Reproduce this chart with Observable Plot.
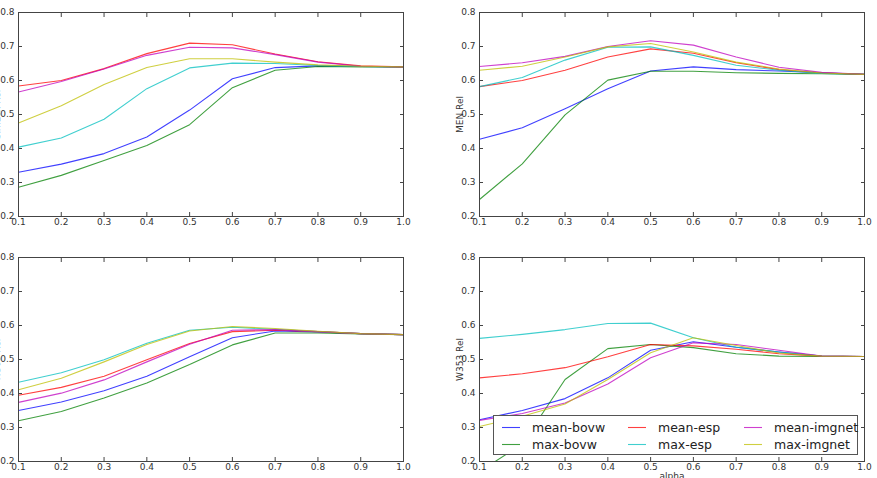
<!DOCTYPE html>
<html>
<head>
<meta charset="utf-8">
<script src="https://cdn.jsdelivr.net/npm/d3@7"></script>
<script src="https://cdn.jsdelivr.net/npm/@observablehq/plot@0.6"></script>
<style>
  html, body { margin: 0; padding: 0; background: #fff; }
  body { position: relative; width: 877px; height: 478px; overflow: hidden; font-family: "DejaVu Sans", sans-serif; }
  .panel { position: absolute; }
  #legend {
    position: absolute; left: 493px; top: 415px; width: 363px; height: 38px;
    border: 1px solid #555; background: #fff; font-size: 12.5px; color: #222;
  }
  #legend .item { position: absolute; display: flex; align-items: center; height: 16px; white-space: nowrap; }
  #legend svg { display: block; margin-right: 12px; }
</style>
</head>
<body>
<script>
// alpha values on the x axis
const alphas = [0.1, 0.2, 0.3, 0.4, 0.5, 0.6, 0.7, 0.8, 0.9, 1.0];
const xTicks = [0.1, 0.2, 0.3, 0.4, 0.5, 0.6, 0.7, 0.8, 0.9, 1.0];
const yTicks = [0.2, 0.3, 0.4, 0.5, 0.6, 0.7, 0.8];

// series, in legend order (column by column, two per column)
const seriesNames = ["mean-bovw", "max-bovw", "mean-esp", "max-esp", "mean-imgnet", "max-imgnet"];
const seriesColors = ["#0000ff", "#008000", "#ff0000", "#00bfbf", "#bf00bf", "#bfbf00"];

// relatedness scores per alpha; rows follow seriesNames
const scoresTopLeft = [
  [0.330, 0.354, 0.385, 0.434, 0.513, 0.605, 0.638, 0.643, 0.641, 0.640],
  [0.286, 0.321, 0.365, 0.409, 0.470, 0.579, 0.630, 0.641, 0.640, 0.640],
  [0.584, 0.600, 0.635, 0.679, 0.710, 0.705, 0.678, 0.655, 0.643, 0.640],
  [0.404, 0.431, 0.486, 0.576, 0.637, 0.651, 0.650, 0.644, 0.641, 0.640],
  [0.566, 0.597, 0.634, 0.674, 0.698, 0.696, 0.676, 0.654, 0.642, 0.640],
  [0.475, 0.526, 0.588, 0.638, 0.664, 0.664, 0.654, 0.646, 0.642, 0.640]
];
const scoresMEN = [
  [0.427, 0.461, 0.517, 0.576, 0.628, 0.640, 0.632, 0.628, 0.623, 0.618],
  [0.250, 0.355, 0.499, 0.601, 0.627, 0.627, 0.623, 0.621, 0.620, 0.618],
  [0.582, 0.600, 0.630, 0.669, 0.693, 0.680, 0.652, 0.632, 0.622, 0.618],
  [0.582, 0.609, 0.660, 0.698, 0.699, 0.674, 0.645, 0.630, 0.621, 0.618],
  [0.641, 0.652, 0.671, 0.700, 0.717, 0.704, 0.669, 0.639, 0.624, 0.618],
  [0.630, 0.642, 0.669, 0.699, 0.709, 0.684, 0.654, 0.634, 0.622, 0.618]
];
const scoresBottomLeft = [
  [0.350, 0.375, 0.408, 0.451, 0.508, 0.564, 0.584, 0.581, 0.576, 0.573],
  [0.320, 0.347, 0.387, 0.431, 0.485, 0.543, 0.578, 0.578, 0.575, 0.573],
  [0.395, 0.418, 0.451, 0.499, 0.547, 0.582, 0.586, 0.582, 0.576, 0.573],
  [0.433, 0.461, 0.499, 0.548, 0.586, 0.595, 0.589, 0.582, 0.576, 0.573],
  [0.374, 0.401, 0.440, 0.493, 0.545, 0.586, 0.588, 0.582, 0.576, 0.573],
  [0.411, 0.445, 0.493, 0.544, 0.584, 0.597, 0.591, 0.583, 0.576, 0.573]
];
const scoresW353 = [
  [0.323, 0.350, 0.385, 0.446, 0.527, 0.552, 0.536, 0.522, 0.510, 0.509],
  [0.170, 0.252, 0.441, 0.532, 0.544, 0.535, 0.517, 0.510, 0.509, 0.509],
  [0.446, 0.458, 0.476, 0.508, 0.544, 0.540, 0.530, 0.517, 0.510, 0.509],
  [0.562, 0.574, 0.588, 0.606, 0.607, 0.564, 0.536, 0.522, 0.510, 0.509],
  [0.321, 0.341, 0.372, 0.428, 0.505, 0.549, 0.544, 0.527, 0.510, 0.509],
  [0.303, 0.333, 0.369, 0.441, 0.520, 0.564, 0.541, 0.519, 0.510, 0.509]
];

const fmt = d => d.toFixed(1);
const blank = () => "";

function panel(rows, {left, top, ylabel, labelDx, xlabel}) {
  const data = rows.flatMap((vals, s) =>
    vals.map((v, i) => ({alpha: alphas[i], value: v, series: seriesNames[s]})));
  const marks = [
    Plot.line(data, {x: "alpha", y: "value", z: "series", stroke: "series",
      strokeWidth: 1.1, strokeOpacity: 0.75, clip: true}),
    Plot.frame({stroke: "#444"}),
    Plot.axisX({anchor: "bottom", ticks: xTicks, tickSize: -4, tickPadding: 6, tickFormat: fmt, label: null, stroke: "#444"}),
    Plot.axisX({anchor: "top", ticks: xTicks, tickSize: -4, tickFormat: blank, label: null, stroke: "#444"}),
    Plot.axisY({anchor: "left", ticks: yTicks, tickSize: -4, tickPadding: 8, tickFormat: fmt, label: null, stroke: "#444"}),
    Plot.axisY({anchor: "right", ticks: yTicks, tickSize: -4, tickFormat: blank, label: null, stroke: "#444"}),
    Plot.text([ylabel], {frameAnchor: "left", textAnchor: "middle", rotate: -90, dx: labelDx, fill: "#333", fontSize: 9})
  ];
  if (xlabel) {
    marks.push(Plot.text([xlabel], {frameAnchor: "bottom", lineAnchor: "top", dy: 11, fill: "#333", fontSize: 9}));
  }
  const svg = Plot.plot({
    width: 440, height: 236,
    marginLeft: 40, marginRight: 15, marginTop: 12, marginBottom: 20,
    style: {fontFamily: "'DejaVu Sans', sans-serif", fontSize: "9px", color: "#333", background: "transparent", overflow: "visible"},
    x: {domain: [0.1, 1.0]},
    y: {domain: [0.2, 0.8]},
    color: {domain: seriesNames, range: seriesColors},
    marks
  });
  svg.classList.add("panel");
  svg.style.left = left + "px";
  svg.style.top = top + "px";
  document.body.appendChild(svg);
}

panel(scoresTopLeft, {left: -22, top: 0, ylabel: "SimLex Rel", labelDx: -21});
panel(scoresMEN, {left: 439, top: 0, ylabel: "MEN Rel", labelDx: -19});
panel(scoresBottomLeft, {left: -22, top: 245, ylabel: "RG65 Rel", labelDx: -21});
panel(scoresW353, {left: 439, top: 245, ylabel: "W353 Rel", labelDx: -19, xlabel: "alpha"});

// legend drawn over the lower-right panel, three columns of two entries
const legend = document.createElement("div");
legend.id = "legend";
const colX = [8, 134, 250];
const rowY = [3, 20];
const svgNS = "http://www.w3.org/2000/svg";
seriesNames.forEach((name, i) => {
  const item = document.createElement("div");
  item.className = "item";
  item.style.left = colX[Math.floor(i / 2)] + "px";
  item.style.top = rowY[i % 2] + "px";
  const sw = document.createElementNS(svgNS, "svg");
  sw.setAttribute("width", 18);
  sw.setAttribute("height", 6);
  const ln = document.createElementNS(svgNS, "line");
  ln.setAttribute("x1", 0); ln.setAttribute("x2", 18);
  ln.setAttribute("y1", 3.5); ln.setAttribute("y2", 3.5);
  ln.setAttribute("stroke", seriesColors[i]);
  ln.setAttribute("stroke-width", 1.1);
  ln.setAttribute("stroke-opacity", 0.75);
  sw.appendChild(ln);
  const tx = document.createElement("span");
  tx.textContent = name;
  item.append(sw, tx);
  legend.appendChild(item);
});
document.body.appendChild(legend);
</script>
</body>
</html>
